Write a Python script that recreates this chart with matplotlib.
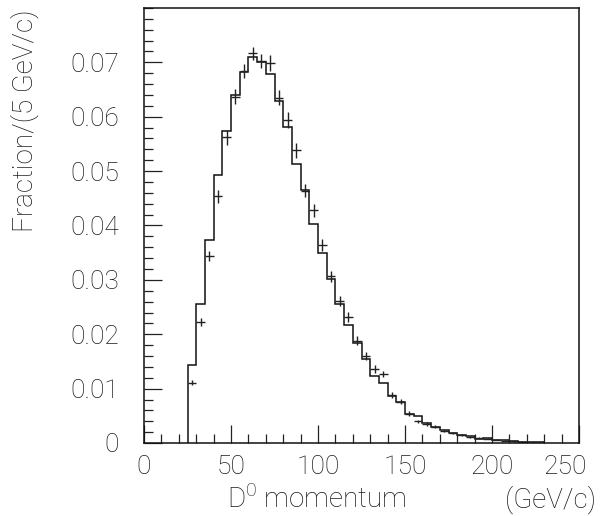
import numpy as np
import matplotlib
matplotlib.use('Agg')
import matplotlib.pyplot as plt
from matplotlib.ticker import MultipleLocator
from matplotlib.transforms import ScaledTranslation

# histogram (simulation), 5 GeV/c bins starting at 25 GeV/c
bin_width = 5
hist_lo = 25
hist_vals = [0.0143, 0.0256, 0.0374, 0.0492, 0.0574, 0.0640, 0.0683, 0.0709,
             0.0701, 0.0678, 0.0629, 0.0582, 0.0514, 0.0466, 0.0403, 0.0349,
             0.0302, 0.0256, 0.0217, 0.0183, 0.0154, 0.0124, 0.0111, 0.0086,
             0.0075, 0.0053, 0.0050, 0.0037, 0.0030, 0.0024, 0.0019, 0.0014,
             0.0013, 0.0008, 0.0010, 0.0006, 0.0005, 0.0003, 0.0002, 0.0002,
             0.0001]

# data points (bin centres)
data_x = [27.5, 32.5, 37.5, 42.5, 47.5, 52.5, 57.5, 62.5, 67.5, 72.5, 77.5,
          82.5, 87.5, 92.5, 97.5, 102.5, 107.5, 112.5, 117.5, 122.5, 127.5,
          132.5, 137.5, 142.5, 147.5, 152.5, 157.5, 162.5, 167.5, 172.5,
          177.5, 182.5, 187.5, 192.5, 197.5, 202.5, 207.5, 212.5, 217.5]
data_y = [0.0111, 0.0223, 0.0344, 0.0454, 0.0562, 0.0637, 0.0684, 0.0717,
          0.0703, 0.0699, 0.0635, 0.0594, 0.0538, 0.0464, 0.0428, 0.0365,
          0.0307, 0.0261, 0.0232, 0.0188, 0.0160, 0.0136, 0.0127, 0.0088,
          0.0076, 0.0054, 0.0040, 0.0035, 0.0030, 0.0022, 0.0018, 0.0014,
          0.0011, 0.0010, 0.0008, 0.0006, 0.0004, 0.0003, 0.0002]
data_err = [0.0005, 0.0007, 0.0010, 0.0012, 0.0014, 0.0014, 0.0013, 0.0012,
            0.0013, 0.0014, 0.0014, 0.0014, 0.0013, 0.0012, 0.0012, 0.0011,
            0.0010, 0.0009, 0.0009, 0.0008, 0.0007, 0.0007, 0.0006, 0.0005,
            0.0005, 0.0004, 0.0003, 0.0003, 0.0003, 0.0002, 0.0002, 0.0002,
            0.0001, 0.0001, 0.0001, 0.0001, 0.0001, 0.0001, 0.0001]

plt.rcParams['font.family'] = ['Roboto', 'DejaVu Sans']
plt.rcParams['mathtext.fontset'] = 'custom'
plt.rcParams['mathtext.rm'] = 'Roboto:light'
tick_txt = dict(fontsize=19, fontweight='light', color='#1a1a1a')
lab_txt = dict(fontsize=20, fontweight='light', color='#1a1a1a')

fig = plt.figure(figsize=(6.05, 5.16), dpi=100)
ax = fig.add_axes([144 / 605, 73 / 516, 435 / 605, 435 / 516])

edges = hist_lo + bin_width * np.arange(len(hist_vals) + 1)
ax.stairs(hist_vals, edges, baseline=0, color='#111111', lw=1.1)
ax.errorbar(data_x, data_y, xerr=bin_width / 2, yerr=data_err, fmt='none',
            ecolor='#222222', elinewidth=1.0, capsize=0)

ax.set_xlim(0, 250)
ax.set_ylim(0, 0.08)
ax.xaxis.set_major_locator(MultipleLocator(50))
ax.xaxis.set_minor_locator(MultipleLocator(10))
ax.yaxis.set_major_locator(MultipleLocator(0.01))
ax.yaxis.set_minor_locator(MultipleLocator(0.002))
ax.tick_params(which='both', direction='in', top=False, right=False,
               width=0.9, color='#222222')
ax.tick_params(which='major', length=13)
ax.tick_params(which='minor', length=6.5)
ax.tick_params(axis='y', which='major', pad=18)
ax.tick_params(axis='x', which='major', pad=9)

ax.set_xticks([0, 50, 100, 150, 200, 250])
ax.set_xticklabels(['0', '50', '100', '150', '200', '250'], **tick_txt)
ax.set_yticks([0, 0.01, 0.02, 0.03, 0.04, 0.05, 0.06, 0.07])
ax.set_yticklabels(['0', '0.01', '0.02', '0.03', '0.04', '0.05', '0.06', '0.07'], **tick_txt)
last = ax.get_xticklabels()[-1]
last.set_transform(last.get_transform() + ScaledTranslation(-14 / 100, 0, fig.dpi_scale_trans))

for s in ax.spines.values():
    s.set_linewidth(1.1)
    s.set_color('#111111')

fig.text(25 / 605, 1 - 10 / 516, 'Fraction/(5 GeV/c)', rotation=90,
         ha='center', va='top', **lab_txt)
fig.text(227 / 605, 1 - 508 / 516, 'D$^{0}$ momentum', ha='left', va='baseline', **lab_txt)
fig.text(596 / 605, 1 - 508 / 516, '(GeV/c)', ha='right', va='baseline', **lab_txt)

fig.savefig('out.png', dpi=100)
